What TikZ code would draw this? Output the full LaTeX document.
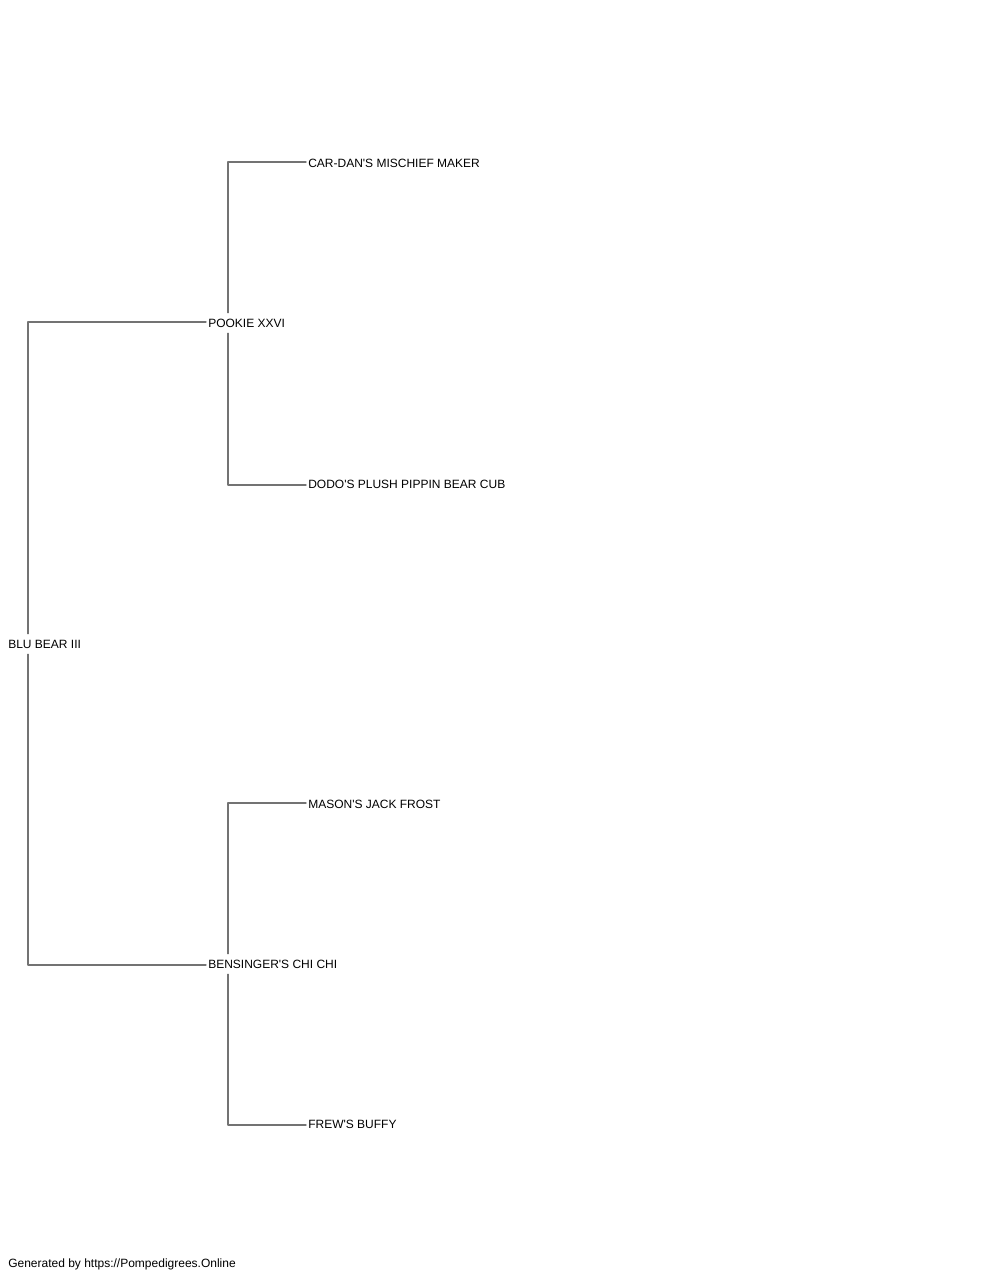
\documentclass[tikz,border=0pt]{standalone}
\usepackage{fontspec}
\setmainfont{Liberation Sans}
\newcommand\ap{\textquotesingle}
\begin{document}
\begin{tikzpicture}[x=0.75pt, y=-0.75pt, font=\fontsize{9}{11}\selectfont, line join=round, line cap=round,
    dog/.style={anchor=west, inner sep=1.5pt, minimum height=15pt},
    link/.style={draw=black!55, line width=1pt}]
    \useasboundingbox (0,0) rectangle (1000,1280);
    % generations
    \node[dog] (blu) at (6,644) {BLU BEAR III};
    \node[dog] (pookie) at (206,323) {POOKIE XXVI};
    \node[dog] (bens) at (206,964) {BENSINGER\ap S CHI CHI};
    \node[dog] (car) at (306,163) {CAR-DAN\ap S MISCHIEF MAKER};
    \node[dog] (dodo) at (306,484) {DODO\ap S PLUSH PIPPIN BEAR CUB};
    \node[dog] (mason) at (306,804) {MASON\ap S JACK FROST};
    \node[dog] (frew) at (306,1124) {FREW\ap S BUFFY};
    \foreach \c/\s/\d in {blu/pookie/bens, pookie/car/dodo, bens/mason/frew}{
        \draw[link] ([xshift=16.5pt]\c.north west) |- ([yshift=0.75pt]\s.west);
        \draw[link] ([xshift=16.5pt]\c.south west) |- ([yshift=-0.75pt]\d.west);
    }
    \node[dog] (footer) at (6,1264) {Generated by https://Pompedigrees.Online};
\end{tikzpicture}
\end{document}
